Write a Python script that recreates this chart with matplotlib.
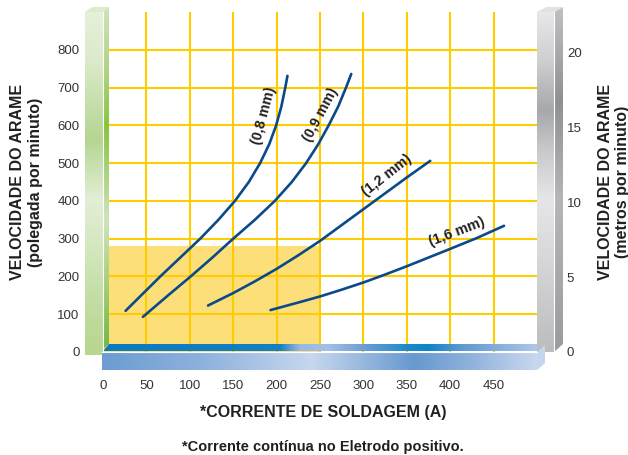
import numpy as np
import matplotlib
matplotlib.use("Agg")
import matplotlib.pyplot as plt
from matplotlib.patches import Polygon, Rectangle
from matplotlib.colors import to_rgb

plt.rcParams['font.family'] = ['Liberation Sans', 'DejaVu Sans']

# ---------------- data ----------------
x_ticks = [0, 50, 100, 150, 200, 250, 300, 350, 400, 450]
y_ticks_left = [0, 100, 200, 300, 400, 500, 600, 700, 800]
y_ticks_right = [0, 5, 10, 15, 20]

wire_labels = ["(0,8 mm)", "(0,9 mm)", "(1,2 mm)", "(1,6 mm)"]

# welding current (A) vs wire feed speed (in/min)
amp_08 = [26, 44, 66, 89, 112, 133, 152, 168, 181, 191.5, 199.5, 205.5, 210, 212.5]
ipm_08 = [109, 150, 200, 250, 300, 350, 400, 450, 500, 550, 600, 650, 700, 731]

amp_09 = [46, 75, 101, 126, 150, 175, 198, 217.5, 234, 248, 260, 271, 280, 286]
ipm_09 = [93, 150, 200, 250, 300, 350, 400, 450, 500, 550, 600, 650, 700, 736]

amp_12 = [121, 150, 175, 200, 225, 250, 275, 300, 325, 350, 377]
ipm_12 = [123, 156, 187, 220, 256, 294, 336, 378, 420, 462, 506]

amp_16 = [193, 225, 250, 275, 300, 325, 350, 375, 400, 431, 462]
ipm_16 = [111, 131, 147, 165, 184, 205, 227, 250, 273, 302, 334]

# label anchor positions (A, in/min) and angles
label_x = [185, 251, 327, 408]
label_y = [625, 628, 468, 318]
label_rot = [75, 62, 38, 21]

# recommended zone
zone_amp = 250
zone_ipm = 280

IN_PER_M = 39.7

W, H = 628, 455
fig = plt.figure(figsize=(W / 100, H / 100), dpi=100)

# ---------------- main axes ----------------
L, R, B, T = 103, 537, 352, 12
ax = fig.add_axes([L / W, 1 - B / H, (R - L) / W, (B - T) / H])
ax.set_xlim(0, 500)
ax.set_ylim(0, 900)
for s in ax.spines.values():
    s.set_visible(False)

grid_c = '#FFCC00'
ax.add_patch(Rectangle((0, 0), zone_amp, zone_ipm, facecolor='#FDDF7A',
                       edgecolor='none', zorder=0.5))
ax.vlines(x_ticks[1:], 0, 900, color=grid_c, lw=1.5, zorder=1)
ax.hlines(y_ticks_left[1:], 0, 500, color=grid_c, lw=1.5, zorder=1)

line_c = '#0A4A8A'
for xs, ys in [(amp_08, ipm_08), (amp_09, ipm_09), (amp_12, ipm_12), (amp_16, ipm_16)]:
    ax.plot(xs, ys, color=line_c, lw=1.9, solid_capstyle='round',
            solid_joinstyle='round', zorder=3)

for t, lx, ly, r in zip(wire_labels, label_x, label_y, label_rot):
    ax.text(lx, ly, t, rotation=r, ha='center', va='center', fontsize=10.3,
            fontweight='bold', color='#231F20', zorder=4, rotation_mode='anchor')

ax.set_xticks(x_ticks)
ax.set_yticks(y_ticks_left)
ax.tick_params(axis='x', length=0, pad=20, labelsize=9.5, labelcolor='#333333')
ax.tick_params(axis='y', length=0, pad=17, labelsize=9.5, labelcolor='#333333')

ax2 = ax.twinx()
ax2.set_ylim(0, 900 / IN_PER_M)
ax2.set_yticks(y_ticks_right)
ax2.tick_params(axis='y', length=0, pad=21.5, labelsize=9.5, labelcolor='#333333')
for s in ax2.spines.values():
    s.set_visible(False)

# ---------------- 3D decorations (pixel coords) ----------------
deco = fig.add_axes([0, 0, 1, 1], zorder=5)
deco.patch.set_alpha(0)
deco.axis('off')


def grad(x0, x1, y0, y1, stops, colors, horizontal=False, clip=None):
    n = 256
    if horizontal:
        pos = np.linspace(x0, x1, n)
    else:
        pos = np.linspace(y0, y1, n)
    rgb = np.array([to_rgb(c) for c in colors])
    arr = np.stack([np.interp(pos, stops, rgb[:, k]) for k in range(3)], axis=-1)
    if horizontal:
        img = arr[np.newaxis, :, :]
    else:
        img = arr[:, np.newaxis, :]
    im = deco.imshow(img, extent=(x0, x1, y1, y0), origin='upper',
                     aspect='auto', interpolation='bilinear', zorder=2)
    if clip is not None:
        p = Polygon(clip, closed=True, transform=deco.transData, facecolor='none',
                    edgecolor='none')
        deco.add_patch(p)
        im.set_clip_path(p)
    return im


# green bar (left)
grad(85, 103, 12, 355,
     [12, 60, 100, 140, 175, 200, 250, 300, 355],
     ['#E6F0DA', '#DCEACB', '#C8E0AE', '#B5D592', '#D0E5BA', '#E3EED6',
      '#D3E7BD', '#C3DDA3', '#B7D68E'])
grad(103, 109, 7, 349,
     [7, 80, 125, 170, 220, 290, 349],
     ['#CFE3B8', '#A9D07A', '#86C441', '#A9D17C', '#CFE4BA', '#A2CD72', '#6FB944'],
     clip=[(103, 12), (109, 7), (109, 344), (103, 349)])
deco.add_patch(Polygon([(85, 12), (103, 12), (110, 7), (92, 7)], closed=True,
                       facecolor='#DCEBCB', edgecolor='none', zorder=3))
deco.plot([103, 103], [12, 352], color='white', lw=0.8, zorder=4)

# gray bar (right)
grad(537, 554, 12, 352,
     [12, 60, 110, 150, 200, 260, 352],
     ['#E8E8EA', '#CFCFD1', '#A7A8AB', '#C9C9CB', '#E6E6E8', '#D7D7D9', '#BBBCBE'])
grad(554, 563, 7, 352,
     [7, 100, 200, 352],
     ['#C0C1C3', '#8F9094', '#B5B6B8', '#9A9B9E'],
     clip=[(554, 12), (563, 7), (563, 344), (554, 352)])
deco.add_patch(Polygon([(537, 12), (554, 12), (563, 7), (546, 7)], closed=True,
                       facecolor='#E2E2E4', edgecolor='none', zorder=3))
deco.plot([554, 554], [12, 352], color='white', lw=0.8, zorder=4)

# blue base (bottom)
grad(103, 537, 344, 351,
     [103, 280, 300, 328, 362, 408, 428, 462, 537],
     ['#0B7AC0', '#1580C4', '#9AB8E0', '#A4C0E4', '#6F9FD4', '#1F8ACB',
      '#0A84C8', '#5E98D2', '#AEC6E7'],
     horizontal=True, clip=[(103, 351), (109, 344), (537, 344), (537, 351)])
grad(102, 537, 352, 370,
     [102, 200, 312, 415, 470, 537],
     ['#6C9CD2', '#8DB1DD', '#C7D7EE', '#6699D0', '#8FB1DD', '#C8D8EF'],
     horizontal=True)
deco.add_patch(Polygon([(537, 352), (545, 345), (545, 363), (537, 370)], closed=True,
                       facecolor='#C5D5EE', edgecolor='none', zorder=3))
deco.plot([102, 537], [352, 352], color='white', lw=0.8, zorder=4)

deco.set_xlim(0, W)
deco.set_ylim(H, 0)

# ---------------- titles ----------------
tc = '#231F20'
fig.text(18 / W, 1 - 182 / H, 'VELOCIDADE DO ARAME', rotation=90, ha='center',
         va='center', fontsize=11.5, fontweight='bold', color=tc)
fig.text(36 / W, 1 - 182 / H, '(polegada por minuto)', rotation=90, ha='center',
         va='center', fontsize=11.5, fontweight='bold', color=tc)
fig.text(605 / W, 1 - 182 / H, 'VELOCIDADE DO ARAME', rotation=90, ha='center',
         va='center', fontsize=11.5, fontweight='bold', color=tc)
fig.text(622 / W, 1 - 182 / H, '(metros por minuto)', rotation=90, ha='center',
         va='center', fontsize=11.5, fontweight='bold', color=tc)
fig.text(323 / W, 1 - 413 / H, '*CORRENTE DE SOLDAGEM (A)', ha='center',
         va='center', fontsize=11.5, fontweight='bold', color=tc)
fig.text(323 / W, 1 - 447 / H, '*Corrente contínua no Eletrodo positivo.',
         ha='center', va='center', fontsize=10.5, fontweight='bold', color=tc)

fig.savefig('out.png', dpi=100)
